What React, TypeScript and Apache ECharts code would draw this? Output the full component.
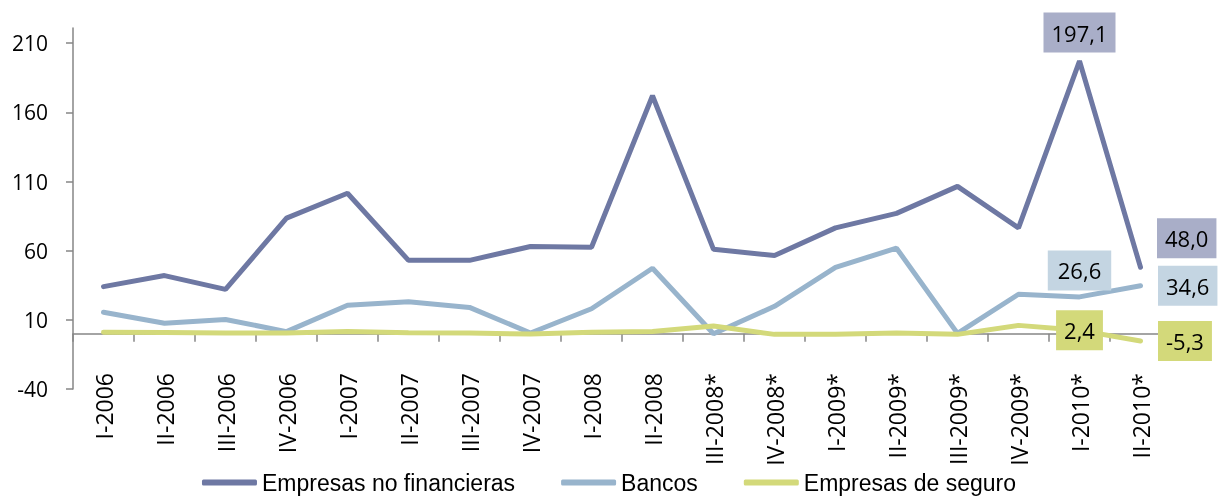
import React, { useEffect, useRef } from "react";
import * as echarts from "echarts";

const categories = [
  "I-2006", "II-2006", "III-2006", "IV-2006",
  "I-2007", "II-2007", "III-2007", "IV-2007",
  "I-2008", "II-2008", "III-2008*", "IV-2008*",
  "I-2009*", "II-2009*", "III-2009*", "IV-2009*",
  "I-2010*", "II-2010*",
];

const noFinancieras = [34, 42, 32, 83.5, 101.5, 53, 53, 63, 62.5, 172, 61, 56.5, 76.5, 87, 106.5, 76.5, 197.1, 48.0];
const bancos = [15.5, 7.5, 10.3, 1.5, 20.5, 23, 19, 0.5, 18, 47.3, 0, 19.8, 48, 61.8, 0.2, 28.5, 26.6, 34.6];
const seguros = [1, 0.8, 0.5, 0.5, 1.5, 0.6, 0.5, -0.3, 1, 1.5, 5.5, -0.5, -0.5, 0.5, -0.5, 6, 2.4, -5.3];

const yTicks = [-40, 10, 60, 110, 160, 210];
const seriesNames = ["Empresas no financieras", "Bancos", "Empresas de seguro"];

const FONT = "'Open Sans', sans-serif";
const LEGEND_FONT = "'Liberation Sans', sans-serif";
const lineColors = ["#6e78a3", "#98b4cc", "#d3d97a"];
const boxColors = ["#a9aec8", "#c4d5e2", "#d3d97a"];

const fmt = (v: number) => v.toFixed(1).replace(".", ",");

export default function App() {
  const ref = useRef<HTMLDivElement>(null);
  useEffect(() => {
    if (!ref.current) return;
    const chart = echarts.init(ref.current, undefined, { renderer: "svg" });

    const boxLabel = (si: number, extra: any) => ({
      show: true,
      formatter: (p: any) => fmt(p.value),
      color: "#000",
      fontFamily: FONT,
      fontSize: 22,
      lineHeight: 22,
      padding: [9, 8],
      backgroundColor: boxColors[si],
      ...extra,
    });

    const labelCfg: Record<number, Record<number, any>> = {
      0: {
        16: { position: "top", distance: 8 },
        17: { position: "right", distance: 16, offset: [0, -29] },
      },
      1: {
        16: { position: "top", distance: 6, padding: [9, 10] },
        17: { position: "right", distance: 17 },
      },
      2: {
        16: { position: "inside" },
        17: { position: "right", distance: 17 },
      },
    };

    const build = (arr: number[], si: number) =>
      arr.map((v, i) =>
        labelCfg[si][i] ? { value: v, label: boxLabel(si, labelCfg[si][i]) } : v
      );

    const allData = [noFinancieras, bancos, seguros];

    chart.setOption({
      animation: false,
      grid: { left: 73, right: 47, top: 28, bottom: 107, containLabel: false },
      legend: {
        top: 471,
        left: "center",
        padding: 0,
        icon: "roundRect",
        itemWidth: 55,
        itemHeight: 6,
        itemGap: 46,
        textStyle: { fontFamily: LEGEND_FONT, fontSize: 23, color: "#000", lineHeight: 22 },
        data: seriesNames,
      },
      xAxis: {
        type: "category",
        data: categories,
        boundaryGap: true,
        axisLine: { onZero: true, lineStyle: { color: "#868686", width: 1.5 } },
        axisTick: { show: true, length: 8, lineStyle: { color: "#868686", width: 1.5 } },
        axisLabel: {
          interval: 0,
          rotate: 90,
          margin: -16,
          color: "#000",
          fontFamily: FONT,
          fontSize: 23,
        },
        splitLine: { show: false },
      },
      yAxis: {
        type: "value",
        min: -40,
        max: 221,
        axisLine: { show: true, lineStyle: { color: "#868686", width: 1.5 } },
        axisTick: {
          show: true,
          length: 7,
          customValues: yTicks,
          lineStyle: { color: "#868686", width: 1.5 },
        },
        axisLabel: {
          customValues: yTicks,
          margin: 25,
          color: "#000",
          fontFamily: FONT,
          fontSize: 21,
        },
        splitLine: { show: false },
      },
      series: seriesNames.map((name, si) => ({
        name,
        type: "line",
        data: build(allData[si], si),
        symbol: "circle",
        symbolSize: 1,
        showSymbol: true,
        color: lineColors[si],
        itemStyle: { color: lineColors[si] },
        lineStyle: { width: 5, color: lineColors[si], cap: "round" },
        label: { show: false },
        emphasis: { disabled: true },
        z: 2 + si,
      })),
    });
    return () => chart.dispose();
  }, []);

  return (
    <div
      ref={ref}
      style={{ position: "fixed", left: 0, top: 0, width: 1218, height: 496 }}
    />
  );
}
